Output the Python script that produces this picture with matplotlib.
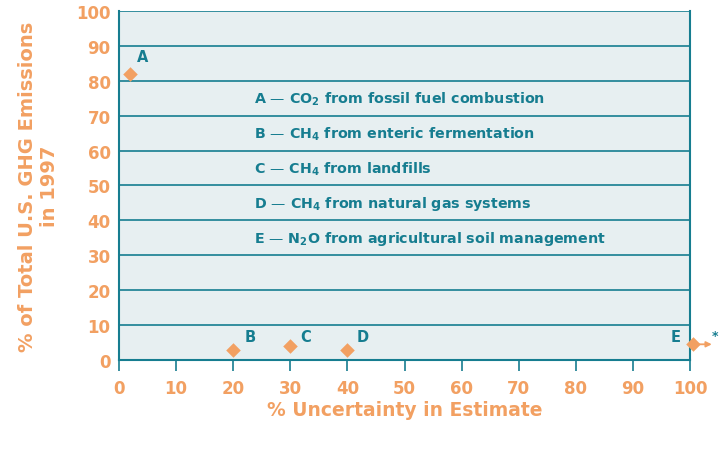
import matplotlib.pyplot as plt
import numpy as np

plt.rcParams['font.family'] = ['DejaVu Sans']

# data
labels = ['A', 'B', 'C', 'D', 'E']
uncertainty = [2, 20, 30, 40, 100.5]
share = [82, 3, 4, 3, 4.5]
legend_lines = [
    r'A — CO$_\mathbf{2}$ from fossil fuel combustion',
    r'B — CH$_\mathbf{4}$ from enteric fermentation',
    r'C — CH$_\mathbf{4}$ from landfills',
    r'D — CH$_\mathbf{4}$ from natural gas systems',
    r'E — N$_\mathbf{2}$O from agricultural soil management',
]
legend_y = [75, 65, 55, 45, 35]

orange = '#f2a062'
teal = '#167d90'
bg = '#e7eff1'

fig = plt.figure(figsize=(7.19, 4.52), dpi=100)
ax = fig.add_axes([0.1655, 0.2013, 0.7942, 0.7722])
ax.set_facecolor(bg)
ax.set_xlim(0, 100)
ax.set_ylim(0, 100)

# horizontal grid lines
for yv in range(10, 101, 10):
    ax.axhline(yv, color=teal, lw=1.2, zorder=1)

for s in ['left', 'right', 'bottom']:
    ax.spines[s].set_color(teal)
    ax.spines[s].set_linewidth(1.5)
ax.spines['top'].set_visible(False)

ax.set_xticks(range(0, 101, 10))
ax.set_yticks(range(0, 101, 10))
ax.tick_params(axis='x', colors=teal, length=8, width=1.2, direction='out', labelcolor=orange, labelsize=12, pad=6)
ax.tick_params(axis='y', length=0, labelcolor=orange, labelsize=12, pad=6)
for t in ax.get_xticklabels() + ax.get_yticklabels():
    t.set_fontweight('bold')

# points
ax.scatter(uncertainty, share, marker='D', s=55, color=orange, zorder=3, clip_on=False, linewidths=0)

offsets = {'A': (2.2, 5), 'B': (2.9, 3.6), 'C': (2.6, 2.6), 'D': (2.6, 3.6), 'E': (-3, 2.1)}
for lab, xv, yv in zip(labels, uncertainty, share):
    dx, dy = offsets[lab]
    ax.text(xv + dx, yv + dy, lab, color=teal, fontsize=10.5, fontweight='bold',
            ha='center', va='center', clip_on=False)

# arrow for E going off the scale
ax.annotate('', xy=(104.3, share[4]), xytext=(uncertainty[4], share[4]),
            arrowprops=dict(arrowstyle='-|>', color=orange, lw=1.3, mutation_scale=8),
            annotation_clip=False)
ax.text(104.9, 7.0, '*', color=teal, fontsize=9, fontweight='bold', ha='right', va='center', clip_on=False)

# legend text inside plot
for txt, yv in zip(legend_lines, legend_y):
    ax.text(23.6, yv, txt, color=teal, fontsize=10.3, fontweight='bold', ha='left', va='center')

ax.set_xlabel('% Uncertainty in Estimate', color=orange, fontsize=13.5, fontweight='bold', labelpad=2)
ax.set_ylabel('% of Total U.S. GHG Emissions\nin 1997', color=orange, fontsize=14, fontweight='bold', labelpad=12)

fig.savefig('out.png', dpi=100)
